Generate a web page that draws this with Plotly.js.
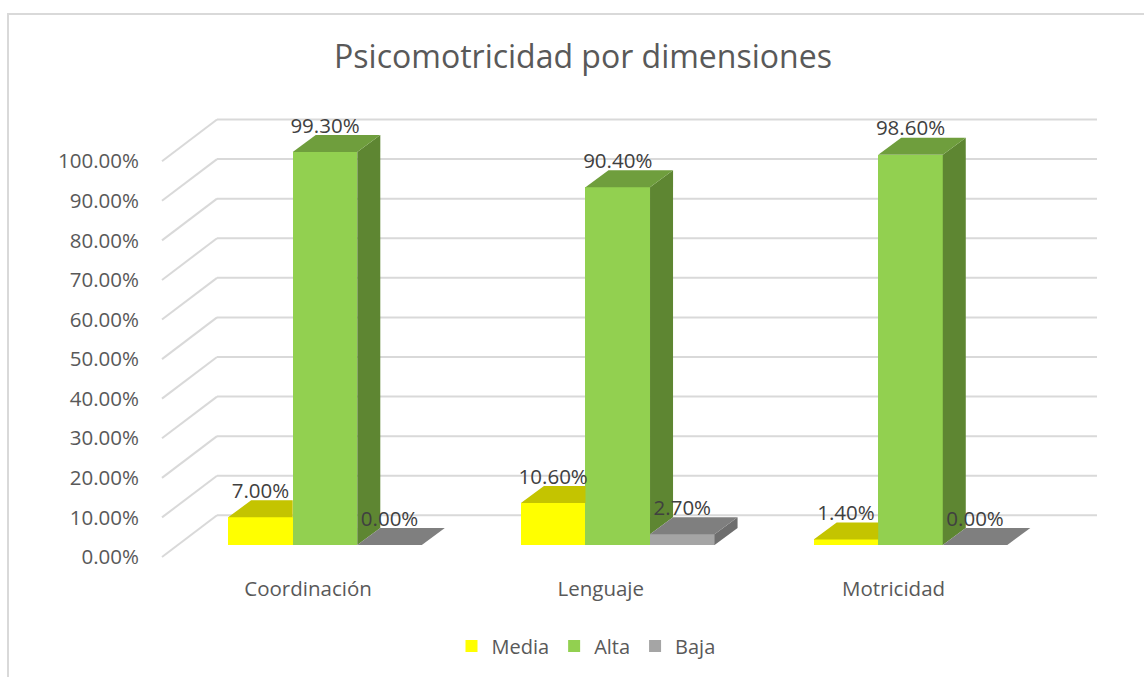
<!DOCTYPE html>
<html>
<head>
<meta charset="utf-8">
<script src="https://cdn.plot.ly/plotly-3.0.1.min.js"></script>
<style>
  html, body { margin: 0; padding: 0; background: #ffffff; }
  #wrap { position: relative; width: 1144px; height: 677px; overflow: hidden; }
  #frame { position: absolute; left: 7px; top: 13px; width: 1160px; height: 700px;
           border-left: 2px solid #D9D9D9; border-top: 2px solid #D9D9D9; box-sizing: border-box; }
  #chart { position: absolute; left: 0; top: 0; width: 1144px; height: 677px; }
</style>
</head>
<body>
<div id="wrap">
  <div id="frame"></div>
  <div id="chart"></div>
</div>
<script>
// ---- data ----
const categories = ['Coordinación', 'Lenguaje', 'Motricidad'];
const seriesNames = ['Media', 'Alta', 'Baja'];
const media = [0.070, 0.106, 0.014];
const alta  = [0.993, 0.904, 0.986];
const baja  = [0.000, 0.027, 0.000];
const yTicks = [0, 0.1, 0.2, 0.3, 0.4, 0.5, 0.6, 0.7, 0.8, 0.9, 1.0];
const chartTitle = 'Psicomotricidad por dimensiones';

// ---- styling / geometry (not data) ----
const FONT = 'Open Sans, sans-serif';
const W = 0.2205;      // bar width in category units
const DX = 0.0786;     // 3D depth offset (x, category units)
const DY = 0.043;      // 3D depth offset (y, value units)
const FRONT_SHIFT = -0.0303; // front axis plane offset (value units)
const BACK_SHIFT = 0.075;    // back wall offset (value units)
const X_FRONT_L = -0.5568, X_BACK_L = -0.3689, X_RIGHT = 2.637;
const XR = [-0.5978, 2.7498];
const YR = [-0.06316, 1.12430];

const series = [
  {name: seriesNames[0], values: media, front: '#FFFF00', top: '#C4C400', side: '#A8A800', off: -1},
  {name: seriesNames[1], values: alta,  front: '#92D050', top: '#6F9E3D', side: '#5E8632', off: 0},
  {name: seriesNames[2], values: baja,  front: '#A5A5A5', top: '#7F7F7F', side: '#6E6E6E', off: 1}
];

const traces = [];
// front faces as bar traces
series.forEach(s => {
  traces.push({
    type: 'bar', name: s.name,
    x: categories.map((_, i) => i + s.off * W),
    y: s.values, width: W,
    marker: {color: s.front, line: {width: 0}},
    hoverinfo: 'skip'
  });
});
// 3D top and side faces (computed from values, clipped by next bar's front)
const clamp = (a, lo, hi) => Math.max(lo, Math.min(hi, a));
series.forEach((s, k) => {
  const next = series[k + 1];
  categories.forEach((_, i) => {
    const v = s.values[i];
    const x0 = i + s.off * W - W / 2, x1 = x0 + W;
    // side face
    const b = next ? Math.min(v, next.values[i]) : 0;
    if (v > b) {
      traces.push({
        type: 'scatter', mode: 'lines', fill: 'toself', fillcolor: s.side,
        line: {width: 0, color: s.side}, showlegend: false, hoverinfo: 'skip',
        x: [x1, x1, x1 + DX, x1 + DX, x1],
        y: [b, v, v + DY, b + DY, b]
      });
    }
    // top face
    const vc = next ? clamp(next.values[i], v, v + DY) : v;
    const xi = x1 + DX * (vc - v) / DY;
    traces.push({
      type: 'scatter', mode: 'lines', fill: 'toself', fillcolor: s.top,
      line: {width: 0, color: s.top}, showlegend: false, hoverinfo: 'skip',
      x: [x0, x1, x1, xi, x1 + DX, x0 + DX, x0],
      y: [v, v, vc, vc, v + DY, v + DY, v]
    });
  });
});
// data labels
series.forEach(s => {
  traces.push({
    type: 'scatter', mode: 'text', showlegend: false, hoverinfo: 'skip',
    x: categories.map((_, i) => i + s.off * W),
    y: s.values.map(v => v + DY + 0.019),
    text: s.values.map(v => (v * 100).toFixed(2) + '%'),
    textposition: 'middle center',
    textfont: {family: FONT, size: 20.5, color: '#404040'}
  });
});
// anchor trace for the front tick-label axis
traces.push({type: 'scatter', x: [null], y: [null], yaxis: 'y2', showlegend: false, hoverinfo: 'skip'});

// gridlines on back wall + left side wall (decoration computed from ticks)
const shapes = [];
yTicks.forEach(t => {
  shapes.push({type: 'line', layer: 'below', xref: 'x', yref: 'y',
    x0: X_BACK_L, y0: t + BACK_SHIFT, x1: X_RIGHT, y1: t + BACK_SHIFT,
    line: {color: '#D9D9D9', width: 2}});
  shapes.push({type: 'line', layer: 'below', xref: 'x', yref: 'y',
    x0: X_FRONT_L, y0: t + FRONT_SHIFT, x1: X_BACK_L, y1: t + BACK_SHIFT,
    line: {color: '#D9D9D9', width: 2}});
});

const layout = {
  width: 1144, height: 677,
  paper_bgcolor: 'rgba(0,0,0,0)', plot_bgcolor: 'rgba(0,0,0,0)',
  margin: {l: 150, r: 14, t: 100, b: 107},
  font: {family: FONT, color: '#595959'},
  title: {text: chartTitle, x: 583 / 1144, xref: 'container', xanchor: 'center',
          y: 1 - 57 / 677, yref: 'container', yanchor: 'middle',
          font: {family: FONT, size: 32, color: '#595959'}},
  barmode: 'overlay',
  bargap: 0,
  showlegend: true,
  legend: {orientation: 'h', x: (586 - 150) / 980, xanchor: 'center',
           y: (570 - 646) / 470, yanchor: 'middle',
           font: {family: FONT, size: 20, color: '#595959'},
           traceorder: 'normal'},
  xaxis: {range: XR, showgrid: false, zeroline: false, showline: false,
          tickvals: categories.map((_, i) => i - 0.058), ticktext: categories,
          ticks: '', ticklabelstandoff: 4,
          tickfont: {family: FONT, size: 20.5, color: '#595959'}},
  yaxis: {range: YR, showgrid: false, zeroline: false, showline: false, showticklabels: false, ticks: ''},
  yaxis2: {overlaying: 'y', side: 'left', range: [YR[0] - FRONT_SHIFT, YR[1] - FRONT_SHIFT],
           tickvals: yTicks, tickformat: '.2%', showgrid: false, zeroline: false, showline: false,
           ticks: '', ticklabelstandoff: 10,
           tickfont: {family: FONT, size: 20.5, color: '#595959'}},
  shapes: shapes,
  hovermode: false
};

Plotly.newPlot('chart', traces, layout, {staticPlot: true, displayModeBar: false});
</script>
</body>
</html>
